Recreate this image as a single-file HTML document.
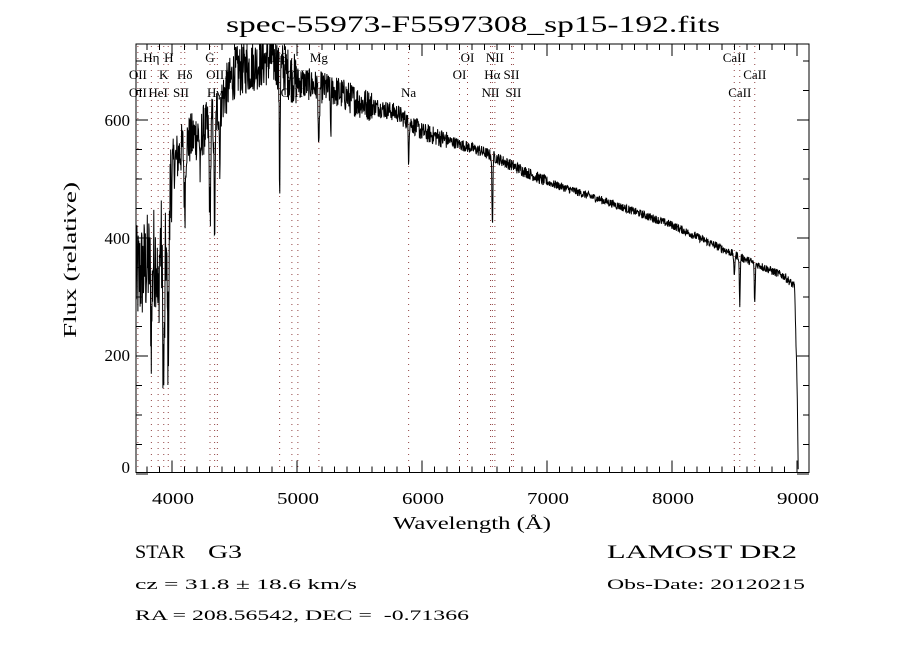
<!DOCTYPE html>
<html><head><meta charset="utf-8"><style>
body{margin:0;background:#fff;}
svg text{font-family:"Liberation Serif",serif;fill:#000;white-space:pre;}
</style></head><body>
<svg id="s" width="900" height="650" xmlns="http://www.w3.org/2000/svg">
<rect width="900" height="650" fill="#fff"/>
<text x="226" y="32" font-size="23" textLength="494" lengthAdjust="spacingAndGlyphs">spec-55973-F5597308_sp15-192.fits</text>
<g id="lines"></g>
<g id="ticks" stroke="#000" stroke-width="1"></g>
<rect x="136" y="44" width="673" height="428.5" fill="none" stroke="#000" stroke-width="1"/>
<path id="spec" fill="none" stroke="#000" stroke-width="1"/>
<g font-size="17" text-anchor="end">
<text x="130" y="473">0</text>
<text x="130" y="361">200</text>
<text x="130" y="244">400</text>
<text x="130" y="126">600</text>
</g>
<g font-size="17">
<text x="152" y="504" textLength="42" lengthAdjust="spacingAndGlyphs">4000</text><text x="277" y="504" textLength="42" lengthAdjust="spacingAndGlyphs">5000</text><text x="402" y="504" textLength="42" lengthAdjust="spacingAndGlyphs">6000</text>
<text x="527" y="504" textLength="42" lengthAdjust="spacingAndGlyphs">7000</text><text x="652" y="504" textLength="42" lengthAdjust="spacingAndGlyphs">8000</text><text x="777" y="504" textLength="42" lengthAdjust="spacingAndGlyphs">9000</text>
</g>
<text x="393" y="529" font-size="18" textLength="158" lengthAdjust="spacingAndGlyphs">Wavelength (Å)</text>
<text transform="translate(76,338) rotate(-90)" font-size="18" textLength="156" lengthAdjust="spacingAndGlyphs">Flux (relative)</text>
<g font-size="13" id="lab"></g>
<text x="135" y="558" font-size="19" textLength="50" lengthAdjust="spacingAndGlyphs">STAR</text>
<text x="208" y="558" font-size="19" textLength="34" lengthAdjust="spacingAndGlyphs">G3</text>
<text x="607" y="558" font-size="19" textLength="190" lengthAdjust="spacingAndGlyphs">LAMOST DR2</text>
<text x="135" y="589" font-size="15" textLength="222" lengthAdjust="spacingAndGlyphs">cz = 31.8 ± 18.6 km/s</text>
<text x="607" y="589" font-size="15" textLength="198" lengthAdjust="spacingAndGlyphs">Obs-Date: 20120215</text>
<text x="135" y="620" font-size="15" textLength="334" lengthAdjust="spacingAndGlyphs">RA = 208.56542, DEC =  -0.71366</text>
</svg>
<script>
const NS="http://www.w3.org/2000/svg";
const X=l=>172+(l-4000)*0.125, Y=v=>474-0.59*v;
function el(p,t,a,txt){const e=document.createElementNS(NS,t);for(const k in a)e.setAttribute(k,a[k]);if(txt)e.textContent=txt;document.getElementById(p).appendChild(e);}
let d="";
for(let l=3800;l<=9000;l+=100){const x=X(l),L=l%1000==0?12:6;d+=`M${x} 472.5v-${L}M${x} 44v${L}`;}
for(let v=0;v<=700;v+=50){const y=Y(v),L=v%200==0?12:6;if(y<44)continue;d+=`M136 ${y}h${L}M809 ${y}h-${L}`;}
el("ticks","path",{d:d});
const ls=[3727,3835,3889,3934,3970,4072,4102,4304,4341,4363,4861,4959,5007,5175,5893,6300,6364,6548,6563,6583,6716,6731,8498,8542,8662];
ls.forEach(l=>el("lines","line",{x1:X(l),x2:X(l),y1:46,y2:472,stroke:"#904040","stroke-dasharray":"1,5","stroke-width":1}));
const labs=[["Hη",3835,62],["H",3975,62],["G",4304,62],["Hβ",4861,62],["Mg",5175,62],["OI",6364,62],["NII",6583,62],["CaII",8498,62],
["OII",3727,79],["K",3934,79],["Hδ",4102,79],["OIII",4363,79],["OIII",5007,79],["OI",6300,79],["Hα",6563,79],["SII",6716,79],["CaII",8662,79],
["OII",3727,97],["HeI",3889,97],["SII",4072,97],["Hγ",4341,97],["OIII",4959,97],["Na",5893,97],["NII",6548,97],["SII",6731,97],["CaII",8542,97]];
labs.forEach(a=>el("lab","text",{x:X(a[1]),y:a[2],"text-anchor":"middle"},a[0]));
let seed=12345;const rnd=()=>{seed=(seed*1103515245+12345)%2147483648;return seed/2147483648-0.5;};
const cont=[[3710,330],[3900,380],[4000,520],[4100,560],[4300,590],[4500,680],[4800,705],[5000,665],[5300,650],[5500,630],[5800,612],[6000,580],[6500,545],[7000,495],[7500,460],[8000,422],[8500,372],[8900,335],[8980,318],[9000,160],[9010,0]];
function C(l){for(let i=0;i<cont.length-1;i++){if(l<=cont[i+1][0]){const t=(l-cont[i][0])/(cont[i+1][0]-cont[i][0]);return cont[i][1]+t*(cont[i+1][1]-cont[i][1]);}}return 0;}
const abs=[[3934,260,12],[3968,250,12],[3835,120,8],[3889,100,8],[4102,110,8],[4227,80,6],[4304,150,8],[4341,190,7],[4383,90,6],[4861,200,5],[5175,120,6],[5270,70,5],[5893,60,5],[6563,120,5],[8498,40,5],[8542,80,5],[8662,70,5]];
let p="";
for(let l=3712;l<=9010;l+=2.5){
 let v=C(l);
 let amp=l<4000?180:l<5000?90:l<5600?55:l<6200?32:l<7000?20:14;
 if(l<9000)v+=rnd()*amp;
 abs.forEach(a=>{const z=(l-a[0])/a[2];v-=a[1]*Math.exp(-z*z);});
 if(v<0)v=0;let y=Y(v);if(y<44)y=44;
 p+=(p?"L":"M")+X(l).toFixed(1)+" "+y.toFixed(1);
}
document.getElementById("spec").setAttribute("d",p);
</script>
</body></html>
